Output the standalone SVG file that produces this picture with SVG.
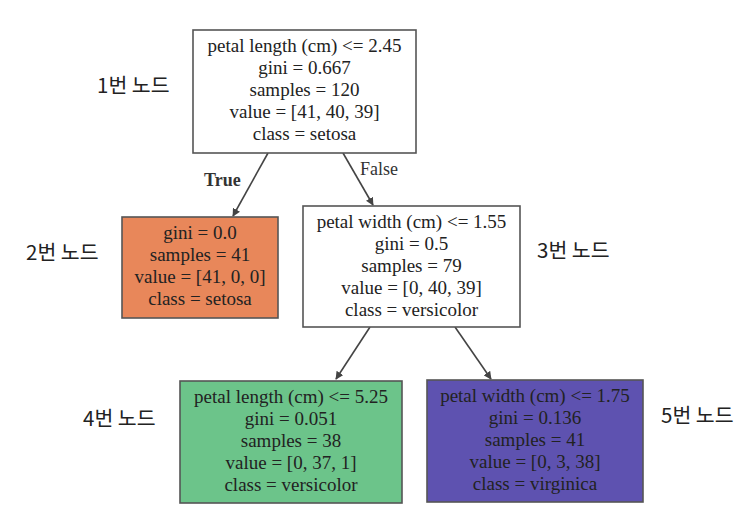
<svg xmlns="http://www.w3.org/2000/svg" width="754" height="519" viewBox="0 0 754 519">
<defs>
<style>
.box{stroke:#555;stroke-width:1.6}
.t{font-family:"Liberation Serif","Times New Roman",serif;font-size:19px;text-anchor:middle;fill:#222}
.lbl{font-family:"Noto Sans CJK KR","Noto Sans",sans-serif;font-size:20.5px;fill:#222}
.edge{stroke:#444;stroke-width:1.6;fill:none}
.el{font-family:"Liberation Serif","Times New Roman",serif;font-size:18px;fill:#333}
</style>
<marker id="ah" viewBox="0 0 10 10" refX="9" refY="5" markerWidth="8" markerHeight="8" orient="auto" markerUnits="userSpaceOnUse">
<path d="M0,0 L10,5 L0,10 z" fill="#444"/>
</marker>
</defs>
<rect width="754" height="519" fill="#fff"/>
<g id="edges">
<line class="edge" x1="268" y1="153" x2="233" y2="216" marker-end="url(#ah)"/>
<line class="edge" x1="343" y1="153" x2="373" y2="205" marker-end="url(#ah)"/>
<line class="edge" x1="370" y1="327" x2="336" y2="379" marker-end="url(#ah)"/>
<line class="edge" x1="455" y1="327" x2="491" y2="379" marker-end="url(#ah)"/>
<text class="el" x="204" y="186" font-size="17" font-weight="bold" fill="#222">True</text>
<text class="el" x="360" y="175">False</text>
</g>
<g id="node1">
<rect class="box" x="193" y="30" width="223" height="123" fill="#fff"/>
<text class="t" x="304.5" y="52">petal length (cm) &lt;= 2.45</text>
<text class="t" x="304.5" y="74">gini = 0.667</text>
<text class="t" x="304.5" y="96">samples = 120</text>
<text class="t" x="304.5" y="118">value = [41, 40, 39]</text>
<text class="t" x="304.5" y="140">class = setosa</text>
</g>
<g id="node2">
<rect class="box" x="122" y="217" width="156" height="101" fill="#e8875a"/>
<text class="t" x="200" y="239" fill="#4a2a18">gini = 0.0</text>
<text class="t" x="200" y="261" fill="#4a2a18">samples = 41</text>
<text class="t" x="200" y="283" fill="#4a2a18">value = [41, 0, 0]</text>
<text class="t" x="200" y="305" fill="#4a2a18">class = setosa</text>
</g>
<g id="node3">
<rect class="box" x="303" y="206" width="217" height="121" fill="#fff"/>
<text class="t" x="411.5" y="228">petal width (cm) &lt;= 1.55</text>
<text class="t" x="411.5" y="250">gini = 0.5</text>
<text class="t" x="411.5" y="272">samples = 79</text>
<text class="t" x="411.5" y="294">value = [0, 40, 39]</text>
<text class="t" x="411.5" y="316">class = versicolor</text>
</g>
<g id="node4">
<rect class="box" x="180" y="381" width="222" height="122" fill="#6cc48a"/>
<text class="t" x="291" y="403" fill="#1f4a2c">petal length (cm) &lt;= 5.25</text>
<text class="t" x="291" y="425" fill="#1f4a2c">gini = 0.051</text>
<text class="t" x="291" y="447" fill="#1f4a2c">samples = 38</text>
<text class="t" x="291" y="469" fill="#1f4a2c">value = [0, 37, 1]</text>
<text class="t" x="291" y="491" fill="#1f4a2c">class = versicolor</text>
</g>
<g id="node5">
<rect class="box" x="427" y="380" width="216" height="122" fill="#5e52b0"/>
<text class="t" x="535" y="402" fill="#3a3080">petal width (cm) &lt;= 1.75</text>
<text class="t" x="535" y="424" fill="#3a3080">gini = 0.136</text>
<text class="t" x="535" y="446" fill="#3a3080">samples = 41</text>
<text class="t" x="535" y="468" fill="#3a3080">value = [0, 3, 38]</text>
<text class="t" x="535" y="490" fill="#3a3080">class = virginica</text>
</g>
<g id="labels">
<text class="lbl" x="97" y="93">1번 노드</text>
<text class="lbl" x="26" y="260">2번 노드</text>
<text class="lbl" x="537" y="258">3번 노드</text>
<text class="lbl" x="83" y="426">4번 노드</text>
<text class="lbl" x="661" y="423">5번 노드</text>
</g>
</svg>
